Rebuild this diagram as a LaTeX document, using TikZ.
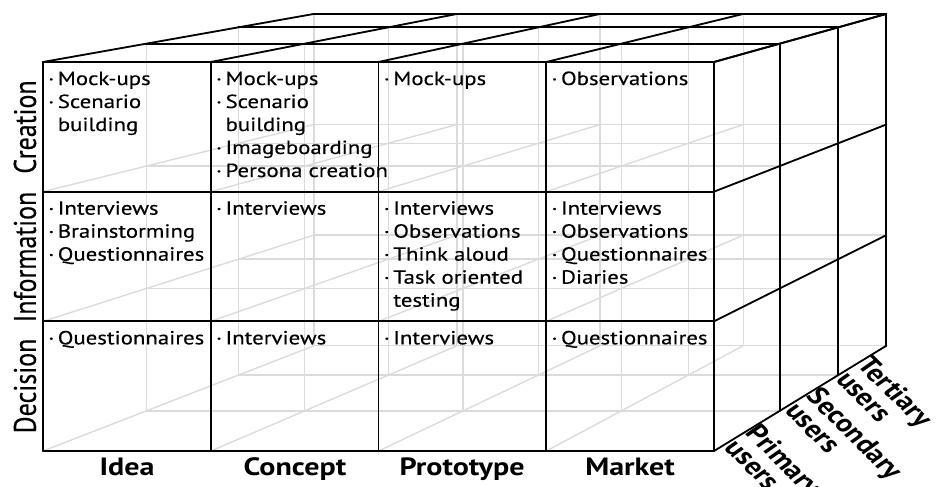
\documentclass[tikz,border=0pt]{standalone}
\usepackage{fontspec}
\setmainfont{PT Sans}
\newfontfamily\cellfont{PT Sans}[FakeBold=0.35]
\usetikzlibrary{calc}
% one bulleted entry of a cell, later lines hang under the text
\newcommand{\itm}[1]{\par\hangindent=8pt\hangafter=1\noindent\makebox[8pt][l]{·}#1}
\newcommand{\cellbox}[1]{\parbox[t]{200pt}{\raggedright#1}}
\begin{document}
\begin{tikzpicture}
  [x=1pt, y=-1pt,
   edge/.style={line width=1.8pt, black, line cap=round},
   hidden/.style={line width=1.4pt, black!14},
   cell/.style={anchor=base west, inner sep=0pt, xscale=1.2,
     font=\cellfont\fontsize{19}{23}\selectfont},
   rowlabel/.style={font=\cellfont\fontsize{26}{28}\selectfont, xscale=1.2,
     rotate=90},
   collabel/.style={font=\bfseries\fontsize{25}{28}\selectfont, anchor=base,
     xscale=1.2},
   userlabel/.style={font=\bfseries\fontsize{25}{23}\selectfont, align=left,
     anchor=north west, inner sep=0pt, xscale=1.2, rotate=-50}]
  \useasboundingbox (0,0) rectangle (938,487);
  % Setup constants
  \def\colw{167.75}
  \def\rowh{129.67}
  \coordinate (V) at (1886,-265);
  % Grid points: column i, row j, depth layer k
  \foreach \k/\fac in {0/1, 1/0.944, 2/0.894, 3/0.853} {
    \foreach \i in {0,...,4} {
      \foreach \j in {0,...,3} {
        \coordinate (p-\i-\j-\k) at ($(V)!\fac!({43+\colw*\i},{62+\rowh*\j})$);
      }
    }
  }
  % Hidden lines seen through the cube
  \foreach \k in {1,2,3} {
    \foreach \j in {0,...,3} \draw[hidden] (p-0-\j-\k) -- (p-4-\j-\k);
    \foreach \i in {0,...,4} \draw[hidden] (p-\i-0-\k) -- (p-\i-3-\k);
  }
  \foreach \i in {0,...,4} {
    \foreach \j in {0,...,3} \draw[hidden] (p-\i-\j-0) -- (p-\i-\j-3);
  }
  % Front face
  \foreach \j in {0,...,3} \draw[edge] (p-0-\j-0) -- (p-4-\j-0);
  \foreach \i in {0,...,4} \draw[edge] (p-\i-0-0) -- (p-\i-3-0);
  % Top face
  \foreach \k in {1,2,3} \draw[edge] (p-0-0-\k) -- (p-4-0-\k);
  \foreach \i in {0,...,4} \draw[edge] (p-\i-0-0) -- (p-\i-0-3);
  % Right face
  \foreach \k in {1,2,3} \draw[edge] (p-4-0-\k) -- (p-4-3-\k);
  \foreach \j in {0,...,3} \draw[edge] (p-4-\j-0) -- (p-4-\j-3);

  % Methods in the cells
  \node[cell] (c-0-0) at ($(p-0-0-0)+(5,23)$)
    {\cellbox{\itm{Mock-ups}\itm{Scenario\newline building}}};
  \node[cell] (c-0-1) at ($(p-0-1-0)+(5,23)$)
    {\cellbox{\itm{Interviews}\itm{Brainstorming}\itm{Questionnaires}}};
  \node[cell] (c-0-2) at ($(p-0-2-0)+(5,23)$)
    {\cellbox{\itm{Questionnaires}}};
  \node[cell] (c-1-0) at ($(p-1-0-0)+(5,23)$)
    {\cellbox{\itm{Mock-ups}\itm{Scenario\newline building}\itm{Imageboarding}%
      \itm{Persona creation}}};
  \node[cell] (c-1-1) at ($(p-1-1-0)+(5,23)$)
    {\cellbox{\itm{Interviews}}};
  \node[cell] (c-1-2) at ($(p-1-2-0)+(5,23)$)
    {\cellbox{\itm{Interviews}}};
  \node[cell] (c-2-0) at ($(p-2-0-0)+(5,23)$)
    {\cellbox{\itm{Mock-ups}}};
  \node[cell] (c-2-1) at ($(p-2-1-0)+(5,23)$)
    {\cellbox{\itm{Interviews}\itm{Observations}\itm{Think aloud}%
      \itm{Task oriented\newline testing}}};
  \node[cell] (c-2-2) at ($(p-2-2-0)+(5,23)$)
    {\cellbox{\itm{Interviews}}};
  \node[cell] (c-3-0) at ($(p-3-0-0)+(5,23)$)
    {\cellbox{\itm{Observations}}};
  \node[cell] (c-3-1) at ($(p-3-1-0)+(5,23)$)
    {\cellbox{\itm{Interviews}\itm{Observations}\itm{Questionnaires}%
      \itm{Diaries}}};
  \node[cell] (c-3-2) at ($(p-3-2-0)+(5,23)$)
    {\cellbox{\itm{Questionnaires}}};

  % Row labels
  \node[rowlabel] (creation) at (25,127) {Creation};
  \node[rowlabel] (information) at (25,257) {Information};
  \node[rowlabel] (decision) at (25,386) {Decision};
  % Column labels
  \node[collabel] (idea) at (127,475) {Idea};
  \node[collabel] (concept) at (295,475) {Concept};
  \node[collabel] (prototype) at (462,475) {Prototype};
  \node[collabel] (market) at (630,475) {Market};
  % Depth labels
  \node[userlabel] (primary) at ($(p-4-3-0)!0.72!(p-4-3-1)$) {Primary\\users};
  \node[userlabel] (secondary) at ($(p-4-3-1)!0.72!(p-4-3-2)$) {Secondary\\users};
  \node[userlabel] (tertiary) at ($(p-4-3-2)!0.72!(p-4-3-3)$) {Tertiary\\users};
\end{tikzpicture}
\end{document}
